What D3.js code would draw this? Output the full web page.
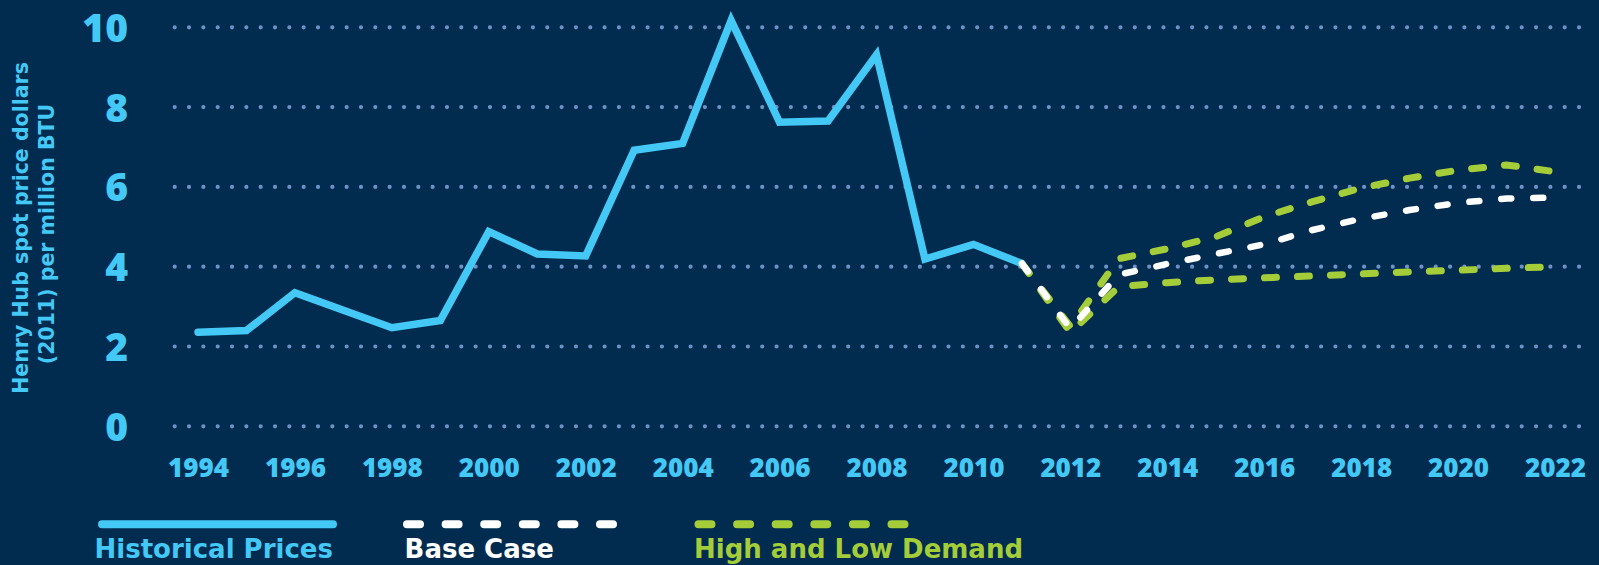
<!DOCTYPE html>
<html>
<head>
<meta charset="utf-8">
<script src="https://cdn.jsdelivr.net/npm/d3@7"></script>
<style>
  html, body { margin: 0; padding: 0; background: #012c4f; }
  svg { display: block; }
  text { font-weight: 700; }
  .lbl { font-family: "DejaVu Sans", sans-serif; }
  .num { font-family: "Open Sans", sans-serif; }
</style>
</head>
<body>
<svg id="chart" width="1599" height="565"></svg>
<script>
// ---- data ----
const histYears = [1994,1995,1996,1997,1998,1999,2000,2001,2002,2003,2004,2005,2006,2007,2008,2009,2010,2011];
const histPrices = [2.36,2.40,3.35,2.91,2.47,2.65,4.88,4.32,4.27,6.92,7.09,10.17,7.62,7.65,9.31,4.19,4.56,4.08];
const fcYears = [2011,2012,2013,2014,2015,2016,2017,2018,2019,2020,2021,2022];
const baseCase = [4.08,2.45,3.80,4.07,4.32,4.56,4.92,5.20,5.42,5.60,5.71,5.73];
const highDemand = [4.08,2.50,4.20,4.45,4.75,5.25,5.63,5.97,6.22,6.42,6.55,6.38];
const lowDemand = [4.08,2.35,3.50,3.60,3.67,3.72,3.77,3.82,3.87,3.91,3.96,4.00];
const yTicks = [0,2,4,6,8,10];
const xTicks = [1994,1996,1998,2000,2002,2004,2006,2008,2010,2012,2014,2016,2018,2020,2022];
const legendLabels = ["Historical Prices","Base Case","High and Low Demand"];
const yTitle = ["Henry Hub spot price dollars","(2011) per million BTU"];

// ---- style ----
const BG = "#012c4f", BLUE = "#44c8f5", GREEN = "#a5cd39", WHITE = "#ffffff", GRID = "#6f92c6";

const svg = d3.select("#chart");
svg.append("rect").attr("width",1599).attr("height",565).attr("fill",BG);

const x = d3.scaleLinear().domain([1994,2022]).range([198,1555]);
const y = d3.scaleLinear().domain([0,10]).range([426.3,27.3]);

// gridlines (dotted)
svg.append("g").selectAll("line").data(yTicks).join("line")
  .attr("x1",174.7).attr("x2",1586)
  .attr("y1",d=>y(d)).attr("y2",d=>y(d))
  .attr("stroke",GRID).attr("stroke-width",4.2)
  .attr("stroke-linecap","round")
  .attr("stroke-dasharray","0 14.33");

// y axis
const yAxis = svg.append("g").attr("transform","translate(128,0)")
  .call(d3.axisLeft(y).tickValues(yTicks).tickSize(0).tickPadding(0).tickFormat(d3.format("d")));
yAxis.select(".domain").remove();
yAxis.selectAll("text").attr("class","num").attr("fill",BLUE).attr("dy","0.36em")
  .style("font-size","39px").style("font-weight","800");

// x axis
const xAxis = svg.append("g").attr("transform","translate(0,459)")
  .call(d3.axisBottom(x).tickValues(xTicks).tickSize(0).tickPadding(0).tickFormat(d3.format("d")));
xAxis.select(".domain").remove();
xAxis.selectAll("text").attr("class","num").attr("fill",BLUE)
  .style("font-size","26px").style("font-weight","800");

// y title
const titleY = [228, 234], titleX = [27.5, 54];
svg.append("g").selectAll("text").data(yTitle).join("text").attr("class","lbl")
  .attr("transform",(d,i)=>`translate(${titleX[i]},${titleY[i]}) rotate(-90)`)
  .attr("text-anchor","middle").attr("fill",BLUE).style("font-size","20.5px").text(d=>d);

// lines
const line = d3.line().x(d=>x(d[0])).y(d=>y(d[1]));
const zip = (a,b)=>a.map((v,i)=>[v,b[i]]);

svg.append("path").datum(zip(fcYears,lowDemand)).attr("d",line)
  .attr("fill","none").attr("stroke",GREEN).attr("stroke-width",7)
  .attr("stroke-linecap","round").attr("stroke-dasharray","12 21");
svg.append("path").datum(zip(fcYears,highDemand)).attr("d",line)
  .attr("fill","none").attr("stroke",GREEN).attr("stroke-width",7)
  .attr("stroke-linecap","round").attr("stroke-dasharray","12 21");
svg.append("path").datum(zip(histYears,histPrices)).attr("d",line)
  .attr("fill","none").attr("stroke",BLUE).attr("stroke-width",7.5)
  .attr("stroke-linecap","round").attr("stroke-linejoin","miter");
svg.append("path").datum(zip(fcYears,baseCase)).attr("d",line)
  .attr("fill","none").attr("stroke",WHITE).attr("stroke-width",6.5)
  .attr("stroke-linecap","round").attr("stroke-dasharray","10 22");

// legend
const lg = svg.append("g");
lg.append("line").attr("x1",102).attr("x2",333).attr("y1",524.3).attr("y2",524.3)
  .attr("stroke",BLUE).attr("stroke-width",8).attr("stroke-linecap","round");
lg.append("line").attr("x1",407).attr("x2",613).attr("y1",524.3).attr("y2",524.3)
  .attr("stroke",WHITE).attr("stroke-width",8).attr("stroke-linecap","round").attr("stroke-dasharray","13 25.6");
lg.append("line").attr("x1",698.5).attr("x2",904.5).attr("y1",524.3).attr("y2",524.3)
  .attr("stroke",GREEN).attr("stroke-width",8).attr("stroke-linecap","round").attr("stroke-dasharray","13 25.6");
const legX = [94.5,404.6,694], legC = [BLUE,WHITE,GREEN];
lg.selectAll("text.leg").data(legendLabels).join("text").attr("class","leg lbl")
  .attr("x",(d,i)=>legX[i]).attr("y",558.3).attr("fill",(d,i)=>legC[i])
  .style("font-size","26px").text(d=>d);
</script>
</body>
</html>
